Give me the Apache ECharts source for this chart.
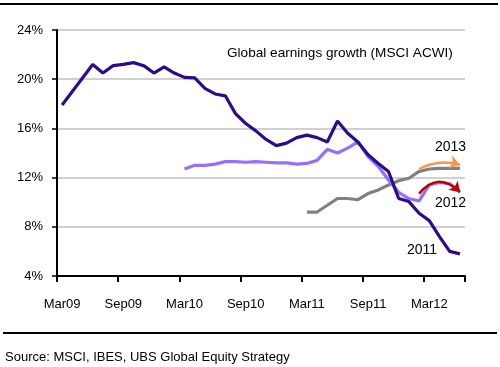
<!DOCTYPE html>
<html>
<head>
<meta charset="utf-8">
<script src="https://cdn.jsdelivr.net/npm/echarts@6/dist/echarts.min.js"></script>
<style>
html,body{margin:0;padding:0;background:#fff;}
#c{width:500px;height:367px;}
</style>
</head>
<body>
<div id="c"></div>
<script>
var categories = ['Mar09','Apr09','May09','Jun09','Jul09','Aug09','Sep09','Oct09','Nov09','Dec09',
  'Jan10','Feb10','Mar10','Apr10','May10','Jun10','Jul10','Aug10','Sep10','Oct10','Nov10','Dec10',
  'Jan11','Feb11','Mar11','Apr11','May11','Jun11','Jul11','Aug11','Sep11','Oct11','Nov11','Dec11',
  'Jan12','Feb12','Mar12','Apr12','May12','Jun12'];
var xTickLabels = ['Mar09','Sep09','Mar10','Sep10','Mar11','Sep11','Mar12'];
var yTicks = [4, 8, 12, 16, 20, 24];

var growth2011 = [17.9,19.0,20.1,21.2,20.5,21.1,21.2,21.35,21.1,20.5,
  21.0,20.5,20.15,20.1,19.25,18.8,18.65,17.2,16.4,15.8,15.1,14.6,
  14.8,15.25,15.45,15.25,14.9,16.6,15.6,14.9,13.85,13.15,12.5,10.3,
  10.05,9.1,8.5,7.2,6.0,5.8];
var growth2012 = [null,null,null,null,null,null,null,null,null,null,
  null,null,12.7,13.0,13.0,13.1,13.3,13.3,13.25,13.3,13.25,13.2,
  13.2,13.1,13.15,13.4,14.3,14.0,14.4,14.9,13.7,12.9,11.8,10.8,
  10.3,10.1,11.4,11.6,11.5,10.9];
var growth2013 = [null,null,null,null,null,null,null,null,null,null,
  null,null,null,null,null,null,null,null,null,null,null,null,
  null,null,9.2,9.2,9.75,10.3,10.3,10.2,10.7,11.0,11.4,11.75,
  11.95,12.5,12.7,12.75,12.75,12.75];

var arrow2013 = [['Feb12', 12.7], ['Jun12', 13.05]];
var arrow2012 = [['Feb12', 10.7], ['Jun12', 10.8]];

var chart = echarts.init(document.getElementById('c'), null, {renderer:'canvas'});
var font = 'Liberation Sans, Arial, sans-serif';

function lineSeries(name, data, color) {
  return {
    name: name, type: 'line', data: data, symbol: 'none',
    lineStyle: {color: color, width: 3.2}, connectNulls: false, z: 3
  };
}

chart.setOption({
  animation: false,
  backgroundColor: '#ffffff',
  grid: {left: 57, right: 35, top: 30, bottom: 91, containLabel: false},
  xAxis: {
    type: 'category', data: categories, boundaryGap: true,
    axisLine: {lineStyle: {color: '#000', width: 2}},
    axisTick: {show: true, interval: 5, length: 6, lineStyle: {color: '#000', width: 2}},
    axisLabel: {
      interval: 5, margin: 22, color: '#000', fontSize: 13, fontFamily: font,
      formatter: function (v) { return xTickLabels.indexOf(v) >= 0 ? v : ''; }
    },
    splitLine: {show: false}
  },
  yAxis: {
    type: 'value', min: yTicks[0], max: yTicks[yTicks.length - 1], interval: 4,
    axisLine: {show: true, lineStyle: {color: '#000', width: 2}},
    axisTick: {show: true, length: 5, lineStyle: {color: '#000', width: 1.5}},
    axisLabel: {margin: 14, color: '#000', fontSize: 13, fontFamily: font,
      formatter: function (v) { return v + '%'; }},
    splitLine: {show: true, lineStyle: {color: '#c0c0c0', width: 1.5}}
  },
  series: [
    lineSeries('2013', growth2013, '#808080'),
    lineSeries('2012', growth2012, '#9370ff'),
    lineSeries('2011', growth2011, '#2e0a8c'),
    {
      type: 'lines', coordinateSystem: 'cartesian2d', z: 5,
      symbol: ['none', 'arrow'], symbolSize: 10,
      lineStyle: {color: '#f79646', width: 2.5, curveness: 0.2, opacity: 1},
      data: [{coords: arrow2013}]
    },
    {
      type: 'lines', coordinateSystem: 'cartesian2d', z: 5,
      symbol: ['none', 'arrow'], symbolSize: 10,
      lineStyle: {color: '#c00000', width: 2.5, curveness: 0.55, opacity: 1},
      data: [{coords: arrow2012}]
    }
  ],
  graphic: [
    {type: 'line', shape: {x1: 0, y1: 4, x2: 498, y2: 4}, style: {stroke: '#000', lineWidth: 2}},
    {type: 'line', shape: {x1: 3, y1: 333, x2: 497, y2: 333}, style: {stroke: '#000', lineWidth: 2}},
    {type: 'text', left: 5, top: 351, style: {text: 'Source: MSCI, IBES, UBS Global Equity Strategy', fill: '#000', font: '13px ' + font}},
    {type: 'text', left: 227, top: 46, style: {text: 'Global earnings growth (MSCI ACWI)', fill: '#000', font: '13.6px ' + font}},
    {type: 'text', left: 435, top: 140, style: {text: '2013', fill: '#000', font: '14px ' + font}},
    {type: 'text', left: 435, top: 196, style: {text: '2012', fill: '#000', font: '14px ' + font}},
    {type: 'text', left: 407, top: 243, style: {text: '2011', fill: '#000', font: '14px ' + font}}
  ]
});
</script>
</body>
</html>
